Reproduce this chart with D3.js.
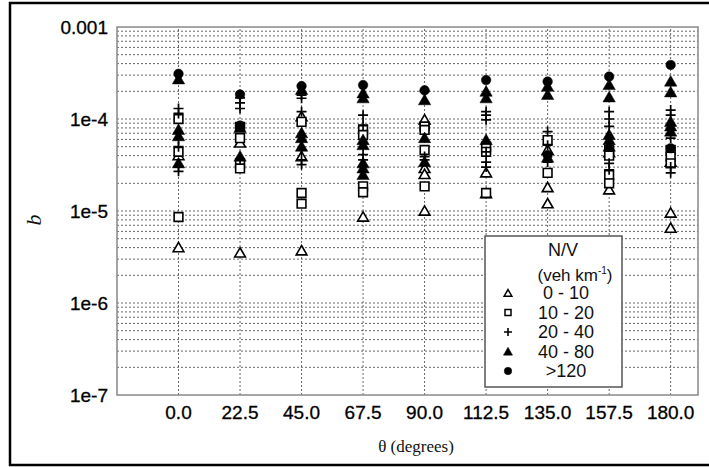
<!DOCTYPE html>
<html>
<head>
<meta charset="utf-8">
<script src="https://cdn.jsdelivr.net/npm/d3@7"></script>
<style>
  body { margin: 0; background: #fff; }
  svg { display: block; }
</style>
</head>
<body>
<div id="chart"></div>
<script>
// categories on the x axis (degrees)
const thetas = [0, 22.5, 45, 67.5, 90, 112.5, 135, 157.5, 180];
const yTicks = [1e-7, 1e-6, 1e-5, 1e-4, 1e-3];
const yTickLabels = ["1e-7", "1e-6", "1e-5", "1e-4", "0.001"];

// series, [theta, b]
const nv0_10 = [
    [0, 4.0e-5], [0, 4.0e-6],
    [22.5, 5.5e-5], [22.5, 3.5e-6],
    [45, 1.06e-4], [45, 3.9e-5], [45, 3.7e-6],
    [67.5, 8.6e-6],
    [90, 9.8e-5], [90, 2.9e-5], [90, 2.5e-5], [90, 1.0e-5],
    [112.5, 2.6e-5], [112.5, 1.55e-5],
    [135, 4.6e-5], [135, 1.8e-5], [135, 1.2e-5],
    [157.5, 4.3e-5], [157.5, 1.7e-5],
    [180, 3.4e-5], [180, 9.5e-6], [180, 6.5e-6]
];
const nv10_20 = [
    [0, 1.0e-4], [0, 4.4e-5], [0, 8.6e-6],
    [22.5, 8.2e-5], [22.5, 6.2e-5], [22.5, 3.2e-5], [22.5, 2.9e-5],
    [45, 9.3e-5], [45, 1.57e-5], [45, 1.2e-5],
    [67.5, 7.6e-5], [67.5, 6.7e-5], [67.5, 1.85e-5], [67.5, 1.6e-5],
    [90, 8.3e-5], [90, 7.6e-5], [90, 4.6e-5], [90, 1.85e-5],
    [112.5, 5.0e-5], [112.5, 4.4e-5], [112.5, 1.57e-5],
    [135, 5.9e-5], [135, 2.6e-5],
    [157.5, 4.6e-5], [157.5, 4.0e-5], [157.5, 2.46e-5], [157.5, 2.0e-5],
    [180, 4.6e-5], [180, 3.9e-5], [180, 3.3e-5]
];
const nv20_40 = [
    [0, 1.3e-4], [0, 1.15e-4], [0, 6.0e-5], [0, 5.0e-5], [0, 3.0e-5], [0, 2.7e-5],
    [22.5, 1.7e-4], [22.5, 1.5e-4], [22.5, 1.3e-4], [22.5, 3.7e-5],
    [45, 1.82e-4], [45, 1.68e-4], [45, 1.2e-4], [45, 4.6e-5], [45, 3.6e-5], [45, 3.2e-5],
    [67.5, 1.1e-4], [67.5, 8.6e-5], [67.5, 4.1e-5], [67.5, 3.6e-5],
    [90, 2.0e-4], [90, 3.9e-5], [90, 3.6e-5],
    [112.5, 1.2e-4], [112.5, 1.1e-4], [112.5, 9.8e-5], [112.5, 4.4e-5], [112.5, 3.4e-5], [112.5, 3.0e-5],
    [135, 7.3e-5], [135, 5.2e-5], [135, 3.4e-5],
    [157.5, 1.2e-4], [157.5, 1.0e-4], [157.5, 8.3e-5], [157.5, 3.3e-5], [157.5, 2.8e-5],
    [180, 1.25e-4], [180, 1.1e-4], [180, 6.2e-5], [180, 3.0e-5], [180, 2.6e-5]
];
const nv40_80 = [
    [0, 2.7e-4], [0, 7.6e-5], [0, 6.5e-5], [0, 3.3e-5],
    [22.5, 8.0e-5], [22.5, 3.9e-5],
    [45, 2.07e-4], [45, 7.0e-5], [45, 6.2e-5], [45, 5.0e-5],
    [67.5, 1.9e-4], [67.5, 1.68e-4], [67.5, 5.9e-5], [67.5, 5.2e-5], [67.5, 3.3e-5], [67.5, 2.9e-5], [67.5, 2.46e-5],
    [90, 1.6e-4], [90, 6.2e-5], [90, 3.4e-5],
    [112.5, 1.98e-4], [112.5, 1.68e-4], [112.5, 5.9e-5],
    [135, 2.25e-4], [135, 1.83e-4], [135, 3.8e-5],
    [157.5, 2.34e-4], [157.5, 1.72e-4], [157.5, 6.7e-5], [157.5, 5.9e-5], [157.5, 5.0e-5],
    [180, 2.55e-4], [180, 1.95e-4], [180, 9.3e-5], [180, 8.3e-5], [180, 7.3e-5]
];
const nv120 = [
    [0, 3.1e-4], [22.5, 1.85e-4], [22.5, 8.5e-5], [45, 2.28e-4], [67.5, 2.34e-4],
    [90, 2.05e-4], [112.5, 2.65e-4], [135, 2.55e-4], [135, 4.05e-5],
    [157.5, 2.89e-4], [180, 3.87e-4], [180, 4.8e-5]
];

const seriesNames = ["0 - 10", "10 - 20", "20 - 40", "40 - 80", ">120"];

const W = 709, H = 467;
const margin = {top: 27, right: 11, bottom: 72, left: 117};

const svg = d3.select("#chart").append("svg")
    .attr("width", W)
    .attr("height", H);

// outer frame
svg.append("rect")
    .attr("x", 10).attr("y", 3)
    .attr("width", 720).attr("height", 462)
    .attr("fill", "none")
    .attr("stroke", "#000")
    .attr("stroke-width", 2.5);

let x = d3.scaleLinear().domain([-22.5, 190]).range([margin.left, W - margin.right]);
let y = d3.scaleLog().domain([1e-7, 1e-3]).range([H - margin.bottom, margin.top]);

// horizontal grid: every minor log tick
let minor = [];
for (let e = -7; e < -3; e++) {
    for (let m = 1; m <= 9; m++) {
        minor.push(m * Math.pow(10, e));
    }
}

svg.append("g").selectAll("line")
    .data(minor.filter(d => d > 1e-7 && d < 1e-3))
    .enter().append("line")
    .attr("x1", x(-22.5)).attr("x2", x(190))
    .attr("y1", d => y(d)).attr("y2", d => y(d))
    .attr("stroke", "#666")
    .attr("stroke-width", 1)
    .attr("stroke-dasharray", "2,2");

// vertical grid at each theta
svg.append("g").selectAll("line")
    .data(thetas)
    .enter().append("line")
    .attr("x1", d => x(d)).attr("x2", d => x(d))
    .attr("y1", y(1e-7)).attr("y2", y(1e-3))
    .attr("stroke", "#666")
    .attr("stroke-width", 1)
    .attr("stroke-dasharray", "2,2");

// plot border
svg.append("rect")
    .attr("x", x(-22.5)).attr("y", y(1e-3))
    .attr("width", x(190) - x(-22.5))
    .attr("height", y(1e-7) - y(1e-3))
    .attr("fill", "none")
    .attr("stroke", "#888")
    .attr("stroke-width", 1.5);

// axes labels
svg.append("g").selectAll("text")
    .data(yTicks)
    .enter().append("text")
    .attr("x", 108)
    .attr("y", d => y(d))
    .attr("dy", "0.36em")
    .attr("text-anchor", "end")
    .style("font-family", "Liberation Sans, Arial, sans-serif")
    .style("font-size", "19px")
    .style("fill", "#000")
    .style("stroke", "#000")
    .style("stroke-width", 0.3)
    .text((d, i) => yTickLabels[i]);

svg.append("g").selectAll("text")
    .data(thetas)
    .enter().append("text")
    .attr("x", d => x(d))
    .attr("y", 419)
    .attr("text-anchor", "middle")
    .style("font-family", "Liberation Sans, Arial, sans-serif")
    .style("font-size", "19px")
    .style("fill", "#000")
    .style("stroke", "#000")
    .style("stroke-width", 0.3)
    .text(d => d.toFixed(1));

svg.append("text")
    .attr("x", 416)
    .attr("y", 452)
    .attr("text-anchor", "middle")
    .style("font-family", "Liberation Serif, Times New Roman, serif")
    .style("font-size", "17px")
    .style("fill", "#111")
    .text("θ (degrees)");

svg.append("text")
    .attr("transform", "translate(41,220) rotate(-90)")
    .attr("text-anchor", "middle")
    .style("font-family", "Liberation Serif, Times New Roman, serif")
    .style("font-style", "italic")
    .style("font-size", "22px")
    .style("fill", "#111")
    .text("b");

// markers
const styles = [
    {data: nv0_10, type: d3.symbolTriangle, size: 50, fill: "#fff", lsize: 26},
    {data: nv10_20, type: d3.symbolSquare, size: 76, fill: "#fff", lsize: 36},
    {data: nv20_40, type: d3.symbolCross, size: 0, fill: "none", lsize: 0},
    {data: nv40_80, type: d3.symbolTriangle, size: 66, fill: "#000", lsize: 36},
    {data: nv120, type: d3.symbolCircle, size: 72, fill: "#000", lsize: 44}
];

function plusPath(r) {
    return "M" + (-r) + ",0H" + r + "M0," + (-r) + "V" + r;
}

styles.forEach(function(s, si) {
    let g = svg.append("g");
    if (si === 2) {
        g.selectAll("path")
            .data(s.data)
            .enter().append("path")
            .attr("transform", d => "translate(" + x(d[0]) + "," + y(d[1]) + ")")
            .attr("d", plusPath(5))
            .attr("stroke", "#000")
            .attr("stroke-width", 1.7)
            .attr("fill", "none");
    } else {
        g.selectAll("path")
            .data(s.data)
            .enter().append("path")
            .attr("transform", d => "translate(" + x(d[0]) + "," + (y(d[1]) + (s.type === d3.symbolTriangle ? 1 : 0)) + ")")
            .attr("d", d3.symbol().type(s.type).size(s.size))
            .attr("fill", s.fill)
            .attr("stroke", "#000")
            .attr("stroke-width", s.fill === "#000" ? 0.5 : 1.6);
    }
});

// legend
let legend = svg.append("g");
legend.append("rect")
    .attr("x", 485).attr("y", 236)
    .attr("width", 137).attr("height", 151)
    .attr("fill", "#fff")
    .attr("stroke", "#555")
    .attr("stroke-width", 1.5);

legend.append("text")
    .attr("x", 563).attr("y", 256)
    .attr("text-anchor", "middle")
    .style("font-family", "Liberation Sans, Arial, sans-serif")
    .style("font-size", "18px")
    .style("fill", "#111")
    .text("N/V");

let unit = legend.append("text")
    .attr("x", 575).attr("y", 281)
    .attr("text-anchor", "middle")
    .style("font-family", "Liberation Sans, Arial, sans-serif")
    .style("font-size", "17px")
    .style("fill", "#111");
unit.append("tspan").text("(veh km");
unit.append("tspan").attr("dy", -7).style("font-size", "10px").text("-1");
unit.append("tspan").attr("dy", 7).text(")");

let rows = legend.selectAll(".row")
    .data(seriesNames)
    .enter().append("g")
    .attr("class", "row")
    .attr("transform", (d, i) => "translate(0," + (293 + i * 19.5) + ")");

rows.append("text")
    .attr("x", 566).attr("y", 0)
    .attr("dy", "0.36em")
    .attr("text-anchor", "middle")
    .style("font-family", "Liberation Sans, Arial, sans-serif")
    .style("font-size", "18px")
    .style("fill", "#111")
    .text(d => d);

rows.each(function(d, i) {
    let s = styles[i];
    let row = d3.select(this);
    if (i === 2) {
        row.append("path")
            .attr("transform", "translate(508,0)")
            .attr("d", plusPath(4))
            .attr("stroke", "#000")
            .attr("stroke-width", 1.6);
    } else {
        row.append("path")
            .attr("transform", "translate(508," + (s.type === d3.symbolTriangle ? 1 : 0) + ")")
            .attr("d", d3.symbol().type(s.type).size(s.lsize))
            .attr("fill", s.fill)
            .attr("stroke", "#000")
            .attr("stroke-width", s.fill === "#000" ? 0.5 : 1.5);
    }
});
</script>
</body>
</html>
